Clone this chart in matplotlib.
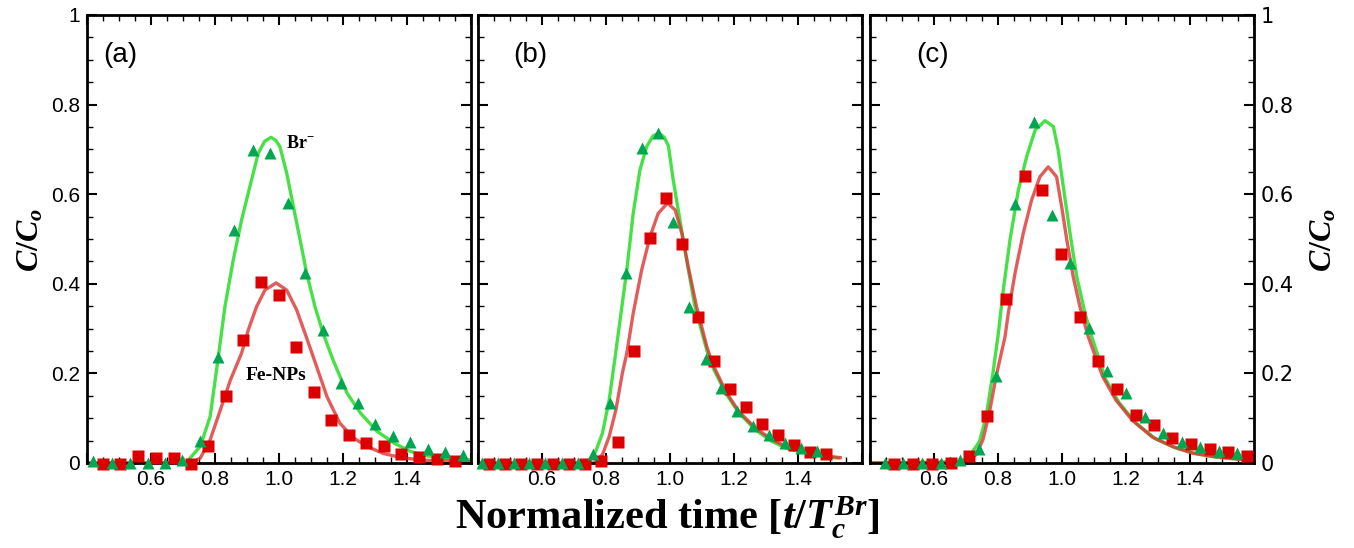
import numpy as np
import matplotlib
matplotlib.use('Agg')
import matplotlib.pyplot as plt
from matplotlib.ticker import MultipleLocator, FuncFormatter

plt.rcParams['mathtext.fontset'] = 'custom'
plt.rcParams['mathtext.it'] = 'Liberation Serif:italic:bold'
plt.rcParams['mathtext.rm'] = 'Liberation Serif:bold'
plt.rcParams['mathtext.bf'] = 'Liberation Serif:bold'

# ---- panel (a) ----
a_br_x = [0.42, 0.478, 0.535, 0.59, 0.645, 0.697, 0.754, 0.808, 0.86, 0.918, 0.971, 1.027,
          1.082, 1.138, 1.194, 1.246, 1.30, 1.356, 1.41, 1.465, 1.52, 1.575]
a_br_y = [0.004, 0.0, 0.0, 0.0, 0.0, 0.006, 0.048, 0.236, 0.519, 0.699, 0.693, 0.58,
          0.424, 0.297, 0.178, 0.134, 0.088, 0.061, 0.046, 0.031, 0.024, 0.018]
a_fe_x = [0.45, 0.504, 0.559, 0.617, 0.671, 0.726, 0.778, 0.834, 0.888, 0.944, 1.001, 1.053,
          1.11, 1.164, 1.22, 1.272, 1.327, 1.381, 1.436, 1.494, 1.549]
a_fe_y = [-0.002, -0.002, 0.015, 0.011, 0.011, -0.002, 0.039, 0.149, 0.275, 0.403, 0.374, 0.258,
          0.158, 0.097, 0.063, 0.045, 0.039, 0.019, 0.013, 0.009, 0.004]
a_brfit_x = [0.40, 0.70, 0.7125, 0.754, 0.785, 0.81, 0.831, 0.857, 0.883, 0.909, 0.935, 0.955,
             0.975, 0.99, 1.003, 1.024, 1.045, 1.066, 1.0865, 1.1125, 1.138, 1.17, 1.2125,
             1.254, 1.306, 1.358, 1.41, 1.4625, 1.515, 1.60]
a_brfit_y = [0.0, 0.0, 0.003, 0.037, 0.104, 0.235, 0.349, 0.453, 0.542, 0.617, 0.691, 0.718,
             0.727, 0.72, 0.706, 0.647, 0.572, 0.498, 0.423, 0.349, 0.289, 0.228, 0.156,
             0.112, 0.071, 0.045, 0.026, 0.016, 0.011, 0.007]
a_fefit_x = [0.40, 0.72, 0.733, 0.754, 0.785, 0.817, 0.848, 0.883, 0.904, 0.93, 0.956, 0.991,
             1.024, 1.055, 1.081, 1.107, 1.15, 1.19, 1.233, 1.275, 1.327, 1.39, 1.46, 1.60]
a_fefit_y = [0.0, 0.0, 0.002, 0.011, 0.052, 0.119, 0.185, 0.245, 0.297, 0.349, 0.386, 0.402,
             0.386, 0.342, 0.29, 0.237, 0.148, 0.089, 0.056, 0.037, 0.021, 0.011, 0.006, 0.003]

# ---- panel (b) ----
b_br_x = [0.412, 0.462, 0.512, 0.56, 0.61, 0.661, 0.711, 0.76, 0.812, 0.862, 0.911, 0.963,
          1.01, 1.06, 1.111, 1.16, 1.21, 1.259, 1.309, 1.358, 1.409, 1.459]
b_br_y = [0.0, 0.0, 0.0, 0.0, 0.0, 0.0, 0.0, 0.021, 0.135, 0.424, 0.703, 0.7375,
          0.537, 0.349, 0.232, 0.167, 0.115, 0.082, 0.063, 0.045, 0.033, 0.026]
b_fe_x = [0.434, 0.485, 0.535, 0.584, 0.633, 0.683, 0.734, 0.784, 0.838, 0.887, 0.937, 0.986,
          1.036, 1.086, 1.136, 1.186, 1.236, 1.286, 1.336, 1.386, 1.436, 1.487]
b_fe_y = [-0.003, -0.003, -0.003, -0.003, -0.003, -0.003, -0.003, 0.005, 0.046, 0.249, 0.503, 0.592,
          0.489, 0.327, 0.227, 0.166, 0.126, 0.087, 0.063, 0.041, 0.024, 0.019]
b_brfit_x = [0.40, 0.742, 0.768, 0.789, 0.81, 0.828, 0.844, 0.865, 0.885, 0.906, 0.927, 0.947,
             0.966, 0.982, 0.995, 1.01, 1.031, 1.052, 1.078, 1.115, 1.132, 1.174, 1.215, 1.267,
             1.319, 1.37, 1.434, 1.496, 1.527]
b_brfit_y = [0.0, 0.0, 0.026, 0.067, 0.141, 0.234, 0.319, 0.431, 0.557, 0.654, 0.706, 0.73,
             0.736, 0.727, 0.708, 0.632, 0.542, 0.453, 0.349, 0.252, 0.216, 0.156, 0.112, 0.074,
             0.048, 0.031, 0.021, 0.013, 0.011]
b_fefit_x = [0.40, 0.763, 0.789, 0.81, 0.831, 0.851, 0.865, 0.885, 0.9115, 0.9375, 0.963,
             0.992, 1.016, 1.037, 1.057, 1.083, 1.115, 1.132, 1.174, 1.215, 1.267, 1.319, 1.37,
             1.434, 1.496, 1.532]
b_fefit_y = [0.0, 0.0, 0.019, 0.059, 0.119, 0.20, 0.245, 0.334, 0.431, 0.505, 0.557,
             0.58, 0.565, 0.513, 0.438, 0.349, 0.26, 0.223, 0.16, 0.115, 0.078, 0.052, 0.035,
             0.022, 0.015, 0.012]

# ---- panel (c) ----
c_br_x = [0.446, 0.504, 0.563, 0.621, 0.68, 0.74, 0.794, 0.853, 0.911, 0.968, 1.025, 1.083,
          1.142, 1.20, 1.259, 1.316, 1.374, 1.431, 1.49, 1.548]
c_br_y = [0.0, 0.0, 0.0, 0.0, 0.007, 0.031, 0.195, 0.578, 0.762, 0.554, 0.446, 0.301,
          0.206, 0.156, 0.102, 0.067, 0.046, 0.035, 0.026, 0.022]
c_fe_x = [0.475, 0.534, 0.594, 0.652, 0.709, 0.767, 0.826, 0.885, 0.938, 0.997, 1.056, 1.113,
          1.171, 1.231, 1.288, 1.345, 1.404, 1.461, 1.519, 1.579]
c_fe_y = [-0.003, -0.003, -0.003, 0.001, 0.016, 0.106, 0.367, 0.641, 0.61, 0.467, 0.326, 0.227,
          0.165, 0.108, 0.0855, 0.056, 0.042, 0.031, 0.0245, 0.016]
c_brfit_x = [0.40, 0.68, 0.711, 0.742, 0.763, 0.784, 0.801, 0.8165, 0.8375, 0.8635, 0.89,
             0.916, 0.947, 0.973, 0.988, 1.004, 1.025, 1.046, 1.072, 1.093, 1.137, 1.179,
             1.231, 1.293, 1.355, 1.418, 1.48, 1.543, 1.594]
c_brfit_y = [0.0, 0.002, 0.015, 0.048, 0.104, 0.20, 0.289, 0.386, 0.498, 0.609, 0.685,
             0.743, 0.764, 0.751, 0.699, 0.617, 0.513, 0.416, 0.334, 0.282, 0.186, 0.134,
             0.089, 0.0535, 0.0335, 0.021, 0.013, 0.009, 0.007]
c_fefit_x = [0.40, 0.70, 0.732, 0.753, 0.773, 0.794, 0.822, 0.832, 0.853, 0.879, 0.905, 0.931,
             0.957, 0.983, 0.999, 1.015, 1.035, 1.056, 1.082, 1.127, 1.168, 1.22, 1.282, 1.345,
             1.407, 1.469, 1.532, 1.594]
c_fefit_y = [0.0, 0.002, 0.019, 0.052, 0.112, 0.193, 0.282, 0.334, 0.423, 0.513, 0.587, 0.639,
             0.661, 0.639, 0.572, 0.498, 0.416, 0.349, 0.282, 0.193, 0.141, 0.095, 0.058, 0.037,
             0.022, 0.015, 0.010, 0.007]

panels = [
    ('(a)', a_br_x, a_br_y, a_fe_x, a_fe_y, a_brfit_x, a_brfit_y, a_fefit_x, a_fefit_y),
    ('(b)', b_br_x, b_br_y, b_fe_x, b_fe_y, b_brfit_x, b_brfit_y, b_fefit_x, b_fefit_y),
    ('(c)', c_br_x, c_br_y, c_fe_x, c_fe_y, c_brfit_x, c_brfit_y, c_fefit_x, c_fefit_y),
]
lefts = [87, 478, 870]
label_pos = [0.086, 0.135, 0.164]

W, H = 1354, 548
fig = plt.figure(figsize=(W / 100, H / 100), dpi=100)

tick_font = 'Liberation Sans'
xfmt = FuncFormatter(lambda v, p: '%.1f' % v if 0.5 < v < 1.5 else '')
yfmt = FuncFormatter(lambda v, p: '%g' % round(v, 2))

for i, (lab, bx, by, fx, fy, bfx, bfy, ffx, ffy) in enumerate(panels):
    ax = fig.add_axes([lefts[i] / W, 1 - 463 / H, 384 / W, 448 / H])
    ax.plot(bfx, bfy, '-', color='#33dd33', lw=2.4, alpha=0.9, zorder=2)
    ax.plot(ffx, ffy, '-', color='#dd3333', lw=2.4, alpha=0.8, zorder=2)
    ax.plot(bx, by, '^', color='#00a650', ms=9, mec='none', clip_on=False, zorder=4)
    ax.plot(fx, fy, 's', color='#dd0000', ms=8, mec='none', clip_on=False, zorder=3)

    ax.set_xlim(0.4, 1.6)
    ax.set_ylim(0, 1)
    ax.xaxis.set_major_locator(MultipleLocator(0.2))
    ax.xaxis.set_minor_locator(MultipleLocator(0.05))
    ax.yaxis.set_major_locator(MultipleLocator(0.2))
    ax.yaxis.set_minor_locator(MultipleLocator(0.05))
    ax.xaxis.set_major_formatter(xfmt)
    ax.yaxis.set_major_formatter(yfmt)
    ax.tick_params(which='both', direction='in', top=True, right=True, width=1.5,
                   labelsize=15, pad=5)
    ax.tick_params(which='major', length=7)
    ax.tick_params(which='minor', length=4, width=1)
    for s in ax.spines.values():
        s.set_linewidth(2)
    for t in ax.get_xticklabels() + ax.get_yticklabels():
        t.set_fontfamily(tick_font)

    if i == 0:
        fig.text(30 / W, 1 - 240 / H, r'$C/C_o$', rotation=90, ha='center', va='center',
                 fontsize=23)
        ax.text(1.066, 0.714, 'Br$^{-}$', fontsize=13, fontweight='bold',
                fontfamily='Liberation Serif', ha='center', va='center')
        ax.text(0.99, 0.196, 'Fe-NPs', fontsize=14, fontweight='bold',
                fontfamily='Liberation Serif', ha='center', va='center')
    elif i == 1:
        ax.tick_params(labelleft=False)
    else:
        ax.tick_params(labelleft=False, labelright=True)
        fig.text(1323 / W, 1 - 240 / H, r'$C/C_o$', rotation=90, ha='center', va='center',
                 fontsize=23)
    ax.text(label_pos[i], 0.91, lab, transform=ax.transAxes, fontsize=20,
            fontfamily='Liberation Sans', ha='center', va='center')

fig.text(667 / W, 1 - 518 / H, r'Normalized time [$t/T_c^{Br}$]', ha='center', va='center',
         fontsize=30.5, fontfamily='Liberation Serif', fontweight='bold')

fig.savefig('out.png', dpi=100)
